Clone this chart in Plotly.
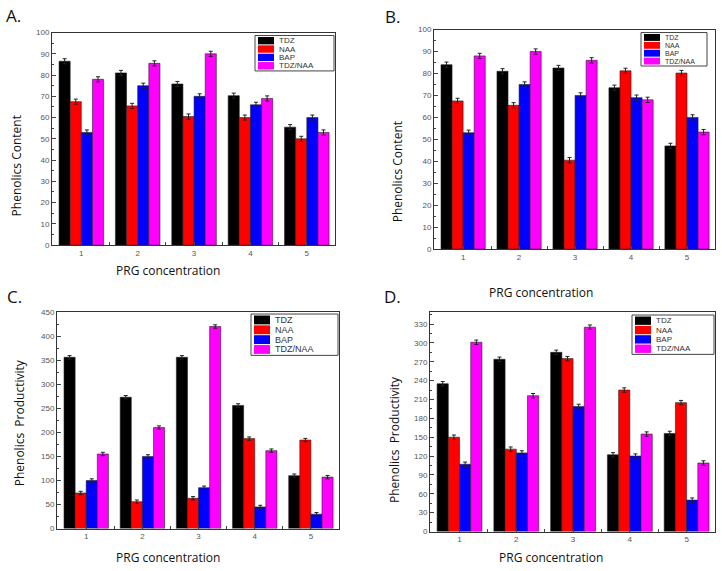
import plotly.graph_objects as go

# PRG concentration levels
concentration = [1, 2, 3, 4, 5]
treatments = ["TDZ", "NAA", "BAP", "TDZ/NAA"]
colours = ["#000000", "#FF0000", "#0000FF", "#FF00FF"]

# A. phenolics content
content_a_tdz = [86.5, 81.0, 75.8, 70.3, 55.5]
content_a_naa = [67.5, 65.5, 60.5, 60.0, 50.0]
content_a_bap = [53.0, 75.0, 70.0, 66.0, 60.0]
content_a_mix = [78.0, 85.5, 90.0, 69.0, 53.0]

# B. phenolics content
content_b_tdz = [84.0, 81.0, 82.5, 73.5, 47.0]
content_b_naa = [67.5, 65.5, 40.5, 81.2, 80.2]
content_b_bap = [53.0, 75.0, 70.0, 69.0, 60.0]
content_b_mix = [88.0, 90.0, 86.0, 68.0, 53.3]

# C. phenolics productivity
prod_c_tdz = [356, 273, 356, 256, 110]
prod_c_naa = [74, 56, 63, 187, 184]
prod_c_bap = [100, 150, 85, 45, 30]
prod_c_mix = [155, 210, 420, 162, 107]

# D. phenolics productivity
prod_d_tdz = [235, 274, 285, 122, 156]
prod_d_naa = [150, 131, 275, 225, 205]
prod_d_bap = [107, 125, 199, 120, 50]
prod_d_mix = [301, 216, 325, 155, 109]

err_content = 1.2
err_prod = 3.5

W, H = 722, 571


def px(x):
    return x / W


def py(y):
    return 1 - y / H


# layout of each panel in page pixels (left, right, top, bottom)
panels = [
    {"label": "A.", "series": [content_a_tdz, content_a_naa, content_a_bap, content_a_mix],
     "err": err_content, "yrange": [0, 100], "dtick": 10, "ytitle": "Phenolics Content",
     "box": (52, 335, 29, 245), "legbox": (255, 334, 32, 68), "legfont": 8,
     "lab": (4, 12), "ytpos": (16, 165), "xtpos": (168, 271)},
    {"label": "B.", "series": [content_b_tdz, content_b_naa, content_b_bap, content_b_mix],
     "err": err_content, "yrange": [0, 100], "dtick": 10, "ytitle": "Phenolics Content",
     "box": (434, 715, 26, 249), "legbox": (641, 707, 29, 63), "legfont": 7,
     "lab": (383, 13), "ytpos": (397, 171), "xtpos": (541, 293)},
    {"label": "C.", "series": [prod_c_tdz, prod_c_naa, prod_c_bap, prod_c_mix],
     "err": err_prod, "yrange": [0, 450], "dtick": 50, "ytitle": "Phenolics  Productivity",
     "box": (57, 339, 313, 533), "legbox": (251, 338, 315, 357), "legfont": 9,
     "lab": (5, 297), "ytpos": (19, 426), "xtpos": (168, 562)},
    {"label": "D.", "series": [prod_d_tdz, prod_d_naa, prod_d_bap, prod_d_mix],
     "err": err_prod, "yrange": [0, 349], "dtick": 30, "ytitle": "Phenolics  Productivity",
     "box": (430, 715, 313, 536), "legbox": (632, 714, 316, 356), "legfont": 8,
     "lab": (382, 297), "ytpos": (394, 443), "xtpos": (551, 562)},
]

fig = go.Figure()
annotations = []
shapes = []
layout = {}

for i, p in enumerate(panels):
    n = "" if i == 0 else str(i + 1)
    for name, vals, col in zip(treatments, p["series"], colours):
        fig.add_trace(go.Bar(
            x=concentration, y=vals, name=name, showlegend=False,
            marker=dict(color=col, line=dict(color="#222222", width=0.6)),
            error_y=dict(type="constant", value=p["err"], color="#222222",
                         thickness=1, width=2),
            xaxis="x" + n, yaxis="y" + n,
        ))
    l, r, t, b = p["box"]
    layout["xaxis" + n] = dict(
        domain=[px(l), px(r)], anchor="y" + n, range=[0.48, 5.5],
        tickvals=concentration, ticks="inside", ticklen=3,
        showline=True, linecolor="#333333", linewidth=1, mirror=True,
        showgrid=False, zeroline=False,
        tickfont=dict(family="Arial", size=8, color="#555555"),
        minor=dict(tickvals=[1.5, 2.5, 3.5, 4.5], ticks="inside", ticklen=3),
    )
    layout["yaxis" + n] = dict(
        domain=[py(b), py(t)], anchor="x" + n, range=p["yrange"], dtick=p["dtick"],
        ticks="inside", ticklen=4,
        showline=True, linecolor="#333333", linewidth=1, mirror=True,
        showgrid=False, zeroline=False,
        tickfont=dict(family="Arial", size=8, color="#555555"),
        minor=dict(ticks="inside", ticklen=2, dtick=p["dtick"] / 2),
    )

    # legend box drawn by hand so the rows stay compact
    lx0, lx1, ly0, ly1 = p["legbox"]
    shapes.append(dict(type="rect", xref="paper", yref="paper",
                       x0=px(lx0), x1=px(lx1), y0=py(ly1), y1=py(ly0),
                       line=dict(color="#444444", width=1), fillcolor="white"))
    row = (ly1 - ly0 - 2) / len(treatments)
    for k, (name, col) in enumerate(zip(treatments, colours)):
        ya = ly0 + 1 + k * row
        shapes.append(dict(type="rect", xref="paper", yref="paper",
                           x0=px(lx0 + 3), x1=px(lx0 + 19),
                           y0=py(ya + row - 0.5), y1=py(ya + 0.5),
                           line=dict(width=0), fillcolor=col))
        annotations.append(dict(
            text=name, x=px(lx0 + 22), y=py(ya + row / 2), xref="paper", yref="paper",
            xanchor="left", yanchor="middle", showarrow=False,
            font=dict(family="Arial", size=p["legfont"], color="#333333")))

    annotations.append(dict(
        text=p["label"], x=px(p["lab"][0]), y=py(p["lab"][1]), xref="paper", yref="paper",
        xanchor="left", yanchor="middle", showarrow=False,
        font=dict(family="Open Sans", size=17, color="#111111")))
    annotations.append(dict(
        text=p["ytitle"], x=px(p["ytpos"][0]), y=py(p["ytpos"][1]),
        xref="paper", yref="paper", xanchor="center", yanchor="middle",
        textangle=-90, showarrow=False,
        font=dict(family="Open Sans", size=12, color="#111111")))
    annotations.append(dict(
        text="PRG concentration", x=px(p["xtpos"][0]), y=py(p["xtpos"][1]),
        xref="paper", yref="paper", xanchor="center", yanchor="middle", showarrow=False,
        font=dict(family="Open Sans", size=12, color="#111111")))

fig.update_layout(
    width=W, height=H,
    margin=dict(l=0, r=0, t=0, b=0),
    paper_bgcolor="white", plot_bgcolor="white",
    barmode="group", bargap=0.21, bargroupgap=0,
    annotations=annotations, shapes=shapes,
    **layout,
)

fig.write_html("out.html", config={"displayModeBar": False},
               post_script="document.body.style.margin='0';")
